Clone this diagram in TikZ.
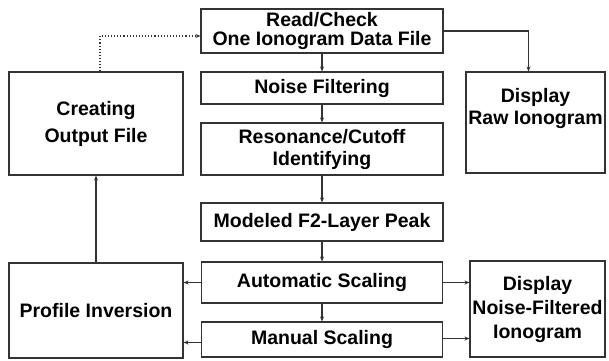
\documentclass[tikz,border=0pt]{standalone}
\usepackage{fontspec}
\setmainfont{Liberation Sans}
\usetikzlibrary{arrows.meta,positioning}

\begin{document}
\begin{tikzpicture}[x=1pt,y=-1pt,->,>={Stealth[length=5pt,width=4pt]},
                    line width=1.1pt,draw=black!80,
                    box/.style={draw=black!80,rectangle,align=center,inner sep=0pt,
                      font=\bfseries\fontsize{19.5}{22}\selectfont}]
  \useasboundingbox (0,0) rectangle (609,360);

  % middle column
  \node[box,minimum width=242,minimum height=44] (read)   at (322,31)    {Read/Check\\[-3pt]One Ionogram Data File};
  \node[box,minimum width=242,minimum height=32] (noise)  at (322,88)    {Noise Filtering};
  \node[box,minimum width=242,minimum height=52] (reson)  at (322,149)   {Resonance/Cutoff\\Identifying};
  \node[box,minimum width=242,minimum height=38] (model)  at (322,222)   {Modeled F2-Layer Peak};
  \node[box,minimum width=241,minimum height=41] (auto)   at (322,282.5) {Automatic Scaling};
  \node[box,minimum width=241,minimum height=35] (manual) at (322,339.5) {Manual Scaling};

  % left column
  \node[box,minimum width=174,minimum height=103] (create)  at (96,123.5) {Creating\\[5pt]Output File};
  \node[box,minimum width=174,minimum height=95]  (profile) at (96,310.5) {Profile Inversion};

  % right column
  \node[box,minimum width=139,minimum height=101] (raw) at (535.5,122.5) {Display\\Raw Ionogram\\[10pt]};
  \node[box,minimum width=135,minimum height=96]  (nf)  at (537.5,309)   {Display\\[2pt]Noise-Filtered\\[2pt]Ionogram};

  \path (read)  edge (noise)
        (noise) edge (reson)
        (reson) edge (model)
        (model) edge (auto)
        (auto)  edge (manual)
        (profile) edge (create);

  \draw (read.east) -| ([xshift=-7pt]raw.north);
  \draw[dotted] ([xshift=4pt]create.north) |- ([yshift=-5pt]read.west);
  \draw (auto.west) -- (auto.west -| profile.east);
  \draw ([yshift=-3pt]manual.west) -- ([yshift=-3pt]manual.west -| profile.east);
  \draw (auto.east) -- (auto.east -| nf.west);
  \draw ([yshift=1pt]manual.east) -- ([yshift=1pt]manual.east -| nf.west);
\end{tikzpicture}
\end{document}
